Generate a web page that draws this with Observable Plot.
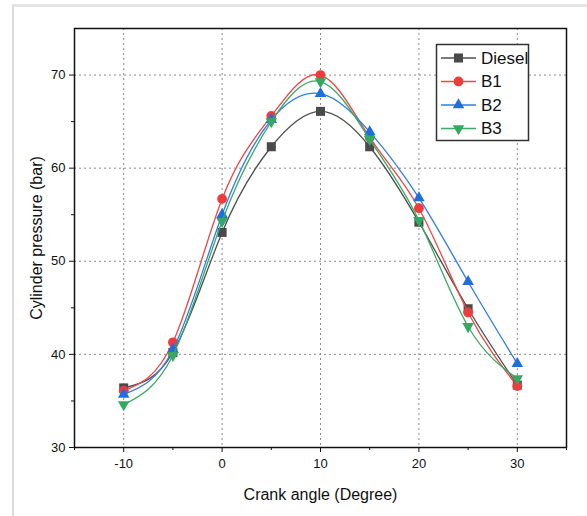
<!DOCTYPE html>
<html>
<head>
<meta charset="utf-8">
<script src="https://cdn.jsdelivr.net/npm/d3@7"></script>
<script src="https://cdn.jsdelivr.net/npm/@observablehq/plot@0.6"></script>
<style>
  html, body { margin: 0; padding: 0; background: #fff; }
  #wrap { position: relative; width: 587px; height: 516px; overflow: hidden; font-family: "Liberation Sans", Arial, sans-serif; }
  #bgframe { position: absolute; left: 12px; top: 4px; width: 600px; height: 600px; border-top: 3px solid #e4e4e4; border-left: 2px solid #dcdcdc; }
  #chart { position: absolute; left: 0; top: 0; }
  #legend { position: absolute; left: 0; top: 0; }
</style>
</head>
<body>
<div id="wrap">
  <div id="bgframe"></div>
  <div id="chart"></div>
  <div id="legend"></div>
</div>
<script>
// ---- data ----
const angles = [-10, -5, 0, 5, 10, 15, 20, 25, 30];
const diesel = [36.4, 40.2, 53.1, 62.3, 66.1, 62.3, 54.2, 44.9, 36.7];
const b1     = [36.1, 41.3, 56.7, 65.6, 70.0, 63.3, 55.7, 44.5, 36.6];
const b2     = [35.7, 40.5, 55.0, 65.2, 68.0, 63.9, 56.8, 47.8, 39.0];
const b3     = [34.6, 39.9, 54.3, 65.0, 69.3, 63.1, 54.4, 43.0, 37.4];
const seriesNames = ["Diesel", "B1", "B2", "B3"];
const xTicks = [-10, 0, 10, 20, 30];
const xMinor = [-15, -5, 5, 15, 25, 35];
const yTicks = [30, 40, 50, 60, 70];
const yMinor = [35, 45, 55, 65];

// ---- styles ----
const triangleDown = {
  draw(context, size) {
    const sqrt3 = Math.sqrt(3);
    const y = -Math.sqrt(size / (sqrt3 * 3));
    context.moveTo(0, -y * 2);
    context.lineTo(-sqrt3 * y, y);
    context.lineTo(sqrt3 * y, y);
    context.closePath();
  }
};
const styles = {
  Diesel: {line: "#4f4f4f", fill: "#4a4a4a", symbol: "square", r: 5.1},
  B1: {line: "#ef4545", fill: "#ef3b3b", symbol: "circle", r: 4.9},
  B2: {line: "#2f7de6", fill: "#1d6fe0", symbol: "triangle", r: 4.3},
  B3: {line: "#3aaa66", fill: "#35a862", symbol: triangleDown, r: 4.3}
};
const valuesBy = {Diesel: diesel, B1: b1, B2: b2, B3: b3};

const rows = seriesNames.map(name => angles.map((a, i) => ({series: name, angle: a, p: valuesBy[name][i]})));
const fmt = d => String(d);

const marks = [
  Plot.gridX(xTicks, {stroke: "#8a8a8a", strokeOpacity: 1, strokeDasharray: "2,3", strokeWidth: 1}),
  Plot.gridY([40, 50, 60, 70], {stroke: "#8a8a8a", strokeOpacity: 1, strokeDasharray: "2,3", strokeWidth: 1}),
  Plot.axisX({ticks: xTicks, tickFormat: fmt, tickSize: 5, tickPadding: 6, fontSize: 13, label: "Crank angle (Degree)", labelAnchor: "center", labelArrow: "none", labelOffset: 52}),
  Plot.axisX({ticks: xMinor, tickSize: 3, text: null, label: null}),
  Plot.axisY({ticks: yTicks, tickFormat: fmt, tickSize: 5, tickPadding: 4, fontSize: 13, label: "Cylinder pressure (bar)", labelAnchor: "center", labelArrow: "none", labelOffset: 44}),
  Plot.axisY({ticks: yMinor, tickSize: 3, text: null, label: null}),
];
rows.forEach((data, k) => {
  const s = styles[seriesNames[k]];
  marks.push(Plot.line(data, {x: "angle", y: "p", stroke: s.line, strokeWidth: 1.3, curve: "natural"}));
  marks.push(Plot.dot(data, {x: "angle", y: "p", symbol: s.symbol, r: s.r, fill: s.fill, stroke: "none"}));
});
marks.push(Plot.frame({stroke: "#111", strokeWidth: 1.5}));

const chart = Plot.plot({
  width: 587,
  height: 516,
  marginLeft: 74,
  marginRight: 21,
  marginTop: 28,
  marginBottom: 69,
  style: {fontFamily: "'Liberation Sans', Arial, sans-serif", fontSize: "13px", color: "#111", background: "transparent"},
  x: {domain: [-15, 35]},
  y: {domain: [30, 75]},
  marks
});
chart.querySelectorAll("[aria-label='x-axis label'] text, [aria-label='y-axis label'] text").forEach(t => t.setAttribute("font-size", "16"));
document.getElementById("chart").appendChild(chart);

// ---- legend (inset box) ----
const svgNS = "http://www.w3.org/2000/svg";
const lg = document.createElementNS(svgNS, "svg");
lg.setAttribute("width", 587); lg.setAttribute("height", 516);
const box = document.createElementNS(svgNS, "rect");
box.setAttribute("x", 436.5); box.setAttribute("y", 44.5); box.setAttribute("width", 92); box.setAttribute("height", 96);
box.setAttribute("fill", "#fff"); box.setAttribute("stroke", "#333"); box.setAttribute("stroke-width", 1.5);
lg.appendChild(box);
seriesNames.forEach((name, i) => {
  const s = styles[name];
  const cy = 58 + i * 23.5;
  const ln = document.createElementNS(svgNS, "line");
  ln.setAttribute("x1", 441); ln.setAttribute("x2", 476); ln.setAttribute("y1", cy); ln.setAttribute("y2", cy);
  ln.setAttribute("stroke", s.line); ln.setAttribute("stroke-width", 1.3);
  lg.appendChild(ln);
  const sym = typeof s.symbol === "string" ? {square: d3.symbolSquare, circle: d3.symbolCircle, triangle: d3.symbolTriangle}[s.symbol] : s.symbol;
  const p = document.createElementNS(svgNS, "path");
  p.setAttribute("d", d3.symbol(sym, Math.PI * s.r * s.r)());
  p.setAttribute("transform", `translate(458.5,${cy})`);
  p.setAttribute("fill", s.fill);
  lg.appendChild(p);
  const t = document.createElementNS(svgNS, "text");
  t.setAttribute("x", 481); t.setAttribute("y", cy); t.setAttribute("dy", "0.35em");
  t.setAttribute("font-size", 17); t.setAttribute("font-family", "'Liberation Sans', Arial, sans-serif");
  t.setAttribute("fill", "#111");
  t.textContent = name;
  lg.appendChild(t);
});
document.getElementById("legend").appendChild(lg);
</script>
</body>
</html>
